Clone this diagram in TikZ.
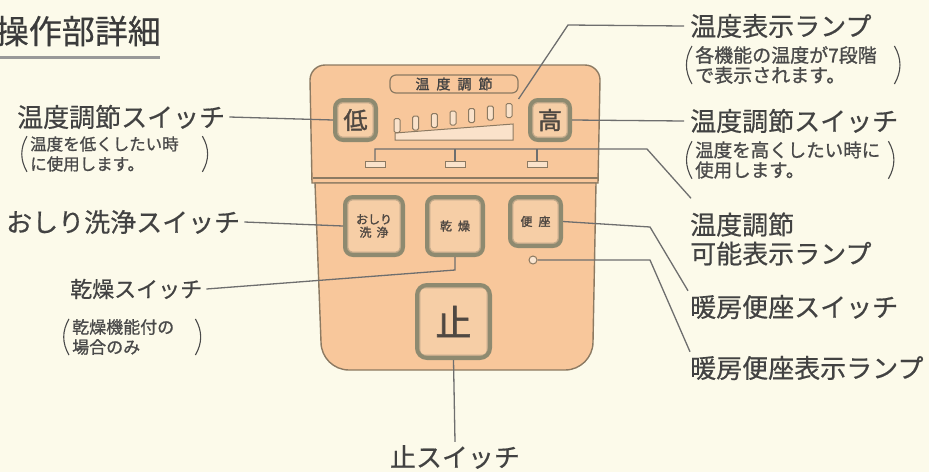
\documentclass[tikz,border=0pt]{standalone}
\usepackage{fontspec}
\newfontfamily\jp[FakeBold=0.5]{Noto Sans CJK JP}
\newfontfamily\jps[FakeBold=1.0]{Noto Sans CJK JP}
\newfontfamily\jpb[FakeBold=1.6]{Noto Sans CJK JP}
\definecolor{bgc}{HTML}{FCFAEA}
\definecolor{panelc}{HTML}{F8C79B}
\definecolor{edgec}{HTML}{8C7A62}
\definecolor{ringc}{HTML}{8E8A70}
\definecolor{facec}{HTML}{F6CEA6}
\definecolor{innerc}{HTML}{C2A98A}
\definecolor{txtc}{HTML}{424242}
\definecolor{txtb}{HTML}{4A4A4A}
\definecolor{linec}{HTML}{6E6E6E}
\tikzset{
  lbl/.style={font=\jp\fontsize{26}{29}\selectfont, text=txtc, inner sep=0pt, align=left},
  smtxt/.style={font=\jps\fontsize{#1}{20}\selectfont, text=txtb, inner sep=0pt, align=left},
  conn/.style={draw=linec, line width=1.3pt},
  paren/.style={draw=txtb, line width=1.1pt},
  btn/.style={draw=ringc, line width=4pt, fill=facec, rounded corners=8pt, inner sep=0pt,
    font=\jpb\fontsize{12}{14}\selectfont, text=txtc!90!brown, align=center,
    path picture={\draw[innerc, line width=1.6pt, rounded corners=5pt]
      ([shift={(2.5,2.5)}]path picture bounding box.north west) rectangle
      ([shift={(-2.5,-2.5)}]path picture bounding box.south east);}},
  bar/.style={draw=edgec, line width=1pt, fill=facec!60!white, rounded corners=1.5pt,
    minimum width=6pt, minimum height=14pt, inner sep=0pt},
  lampbox/.style={draw=edgec, line width=1pt, fill=facec!60!white, minimum width=20pt,
    minimum height=6pt, inner sep=0pt},
  panel/.style={draw=edgec, line width=1.4pt, fill=panelc}
}
\begin{document}
\begin{tikzpicture}[x=1pt,y=-1pt]
\fill[bgc] (0,0) rectangle (929,472);
\useasboundingbox (0,0) rectangle (929,472);

% title
\node[font=\jp\fontsize{33}{36}\selectfont, text=txtc!90!black, inner sep=0pt, anchor=east] (title) at (161,31) {操作部詳細};
\draw[line width=3pt, draw=gray!80] (0,57) -- (160,57);

% panel
\path[panel] (312,183) -- (310,80) arc[start angle=180,end angle=270,radius=15]
  -- (585,65) arc[start angle=270,end angle=360,radius=15] -- (598,183) -- cycle;
\draw[edgec, line width=1.4pt] (313,178) -- (598,178);
\path[panel] (315,183) -- (321,342) arc[start angle=180,end angle=90,radius=28]
  -- (565,370) arc[start angle=90,end angle=0,radius=28] -- (596,183) -- cycle;

% temperature label box
\node[draw=edgec, line width=1.2pt, rounded corners=6pt, minimum width=128pt, minimum height=18pt,
  inner sep=0pt, font=\jpb\fontsize{14}{16}\selectfont, text=txtc] (tlab) at (454,84)
  {温\hspace{7pt}度\hspace{7pt}調\hspace{7pt}節};

% wedge and bars
\filldraw[draw=edgec, line width=1pt, fill=facec!60!white] (395,133) -- (513,124) -- (513,140) -- (395,140) -- cycle;
\foreach \i in {0,...,6} {
  \node[bar] (b\i) at ({397+18.67*\i},{125.5-2.5*\i}) {};
}

% low / high buttons
\node[btn, minimum width=41pt, minimum height=40pt, font=\jpb\fontsize{24}{26}\selectfont] (low) at (355.5,120) {低};
\node[btn, minimum width=40pt, minimum height=40pt, font=\jpb\fontsize{24}{26}\selectfont] (high) at (550,120) {高};

% lamps
\node[lampbox] (m1) at (375,164) {};
\node[lampbox] (m2) at (455,164) {};
\node[lampbox] (m3) at (537,164) {};

% lower buttons
\node[btn, minimum width=58pt, minimum height=58pt] (osh) at (374,226) {おしり\\[-1pt]洗\hspace{5pt}浄};
\node[btn, minimum width=56pt, minimum height=58pt] (dry) at (455,226) {乾\hspace{6pt}燥};
\node[btn, minimum width=51pt, minimum height=49pt] (seat) at (535.5,221.5) {便\hspace{6pt}座};
\node[draw=edgec, line width=1pt, fill=facec!50!white, circle, minimum size=8pt, inner sep=0pt] (lamp) at (533,260) {};
\node[btn, minimum width=73pt, minimum height=73pt, rounded corners=10pt, font=\jpb\fontsize{36}{38}\selectfont] (stop) at (453.5,321.5) {止};

% left labels
\node[lbl, anchor=west] (L1) at (17,117) {温度調節スイッチ};
\node[smtxt=16.5, anchor=west, text width=168pt] (L1s) at (30,154) {温度を低くしたい時\\に使用します。};
\draw[paren] ([xshift=-3pt]L1s.north west) to[bend right=30] ([xshift=-3pt]L1s.south west);
\draw[paren] ([xshift=4pt]L1s.north east) to[bend left=30] ([xshift=4pt]L1s.south east);

\node[lbl, anchor=west] (L2) at (6,222) {おしり洗浄スイッチ};

\node[lbl, font=\jp\fontsize{22}{26}\selectfont, anchor=west] (L3) at (70,289) {乾燥スイッチ};
\node[smtxt=17, anchor=west, text width=120pt] (L3s) at (72,337) {乾燥機能付の\\場合のみ};
\draw[paren] ([xshift=-3pt]L3s.north west) to[bend right=30] ([xshift=-3pt]L3s.south west);
\draw[paren] ([xshift=3pt]L3s.north east) to[bend left=30] ([xshift=3pt]L3s.south east);

% right labels
\node[lbl, anchor=west] (R1) at (690,26) {温度表示ランプ};
\node[smtxt=19, anchor=west, text width=196pt] (R1s) at (695,65) {各機能の温度が7段階\\で表示されます。};
\draw[paren] ([xshift=-3pt]R1s.north west) to[bend right=30] ([xshift=-3pt]R1s.south west);
\draw[paren] ([xshift=3pt]R1s.north east) to[bend left=30] ([xshift=3pt]R1s.south east);

\node[lbl, anchor=west] (R2) at (690,121) {温度調節スイッチ};
\node[smtxt=18.5, anchor=west, text width=190pt] (R2s) at (695,160) {温度を高くしたい時に\\使用します。};
\draw[paren] ([xshift=-3pt]R2s.north west) to[bend right=30] ([xshift=-3pt]R2s.south west);
\draw[paren] ([xshift=3pt]R2s.north east) to[bend left=30] ([xshift=3pt]R2s.south east);

\node[lbl, anchor=west] (R3) at (690,239) {温度調節\\可能表示ランプ};
\node[lbl, anchor=west] (R4) at (690,307) {暖房便座スイッチ};
\node[lbl, anchor=west] (R5) at (690,368) {暖房便座表示ランプ};

\node[lbl] (B) at (455,457) {止スイッチ};

% connectors
\draw[conn] ([xshift=4pt]L1.east) -- (low.west);
\draw[conn] ([xshift=4pt]L2.east) -- (osh.west);
\coordinate (k3) at (455,270);
\draw[conn] ([xshift=4pt]L3.east) -- (k3) -- (dry.south);

\coordinate (k1) at (568,25);
\draw[conn] ([shift={(6,-4)}]b6.north east) -- (k1) -- ([xshift=-6pt]R1.west);
\draw[conn] (high.east) -- ([xshift=-6pt]R2.west);

\coordinate (k4) at (647,149);
\draw[conn] (m1.north) -- (m1.north |- k4) -- (k4) -- ([shift={(1,-14)}]R3.north west);
\draw[conn] (m2.north) -- (m2.north |- k4);
\draw[conn] (m3.north) -- (m3.north |- k4);

\coordinate (k6) at (650,227);
\draw[conn] (seat.east) -- (k6) -- ([shift={(-2,-4)}]R4.north west);
\coordinate (k7) at (650,260);
\draw[conn] (lamp.east) -- (k7) -- ([shift={(0,-4)}]R5.north west);

\draw[conn] (stop.south) -- ([yshift=3pt]B.north);
\end{tikzpicture}
\end{document}
